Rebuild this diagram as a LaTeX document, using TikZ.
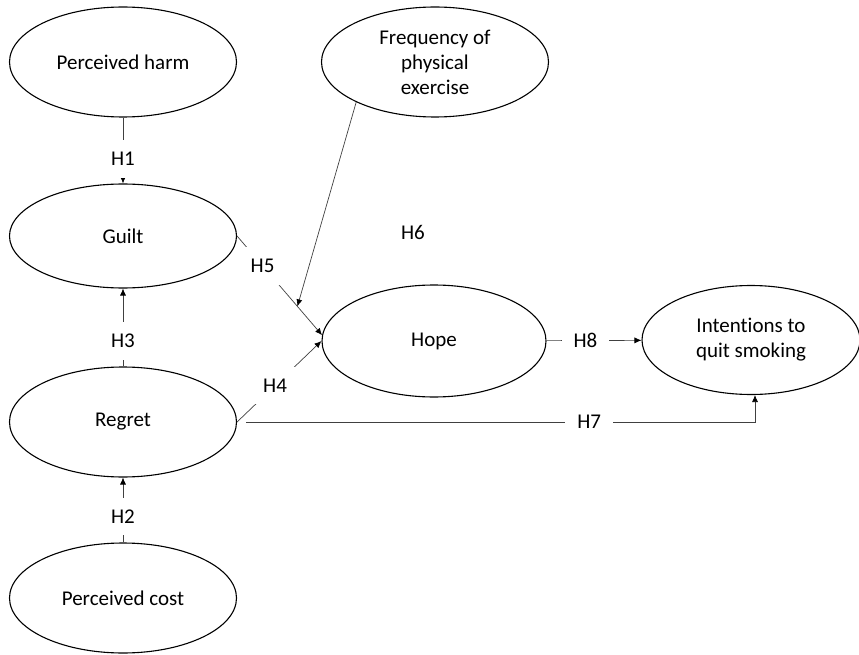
\documentclass[tikz,border=0pt]{standalone}
\usepackage{fontspec}
\setmainfont{Carlito}[Ligatures={NoCommon}]
\usepackage{tikz}
\usetikzlibrary{shapes.geometric, arrows.meta}
\tikzset{every node/.append style={font=\fontsize{21}{25}\selectfont}}
\tikzset{
    construct/.style={draw, ellipse, line width=1.1pt, align=center, minimum width=227pt, minimum height=110pt},
    hyp/.style={fill=white, text=black, inner sep=12pt},
    link/.style={line width=0.7pt, black!75}
}

\begin{document}
\begin{tikzpicture}[x=1pt, y=-1pt, >={Latex[length=7pt, width=6pt, color=black]}]
    \useasboundingbox (0,0) rectangle (859,655);
    % constructs
    \node[construct] (harm) at (123,62) {Perceived harm};
    \node[construct, minimum height=104pt] (guilt) at (123,236) {Guilt};
    \node[construct] (regret) at (123,422) {Regret};
    \node[construct] (cost) at (123,598) {Perceived cost};
    \node[construct] (freq) at (435,62) {Frequency of\\physical\\exercise};
    \node[construct, minimum width=224pt, minimum height=112pt] (hope) at (434,341) {Hope};
    \node[construct, minimum width=218pt, minimum height=109pt] (quit) at (751,340) {Intentions to\\quit smoking};
    % hypotheses
    \draw[link, ->] (harm) -- node[hyp, pos=0.63] (h1) {H1} (guilt);
    \draw[link, ->] (cost) -- node[hyp, pos=0.4] (h2) {H2} (regret);
    \draw[link, ->] (regret) -- node[hyp, pos=0.33] (h3) {H3} (guilt);
    \draw[link, ->] (regret.east) -- node[hyp, pos=0.45] (h4) {H4} (hope.west);
    \draw[link, ->] (guilt.east) -- node[hyp, pos=0.3] (h5) {H5} coordinate[pos=0.71] (mod) (hope.177);
    \draw[link, ->] (freq.207) -- (mod);
    \node (h6) at (413,232) {H6};
    \draw[link, ->, shorten <=9pt] (regret.east) -| node[hyp, pos=0.34] (h7) {H7} ([xshift=4pt]quit.south);
    \draw[link, ->] (hope) -- node[hyp, pos=0.41] (h8) {H8} (quit);
\end{tikzpicture}
\end{document}
